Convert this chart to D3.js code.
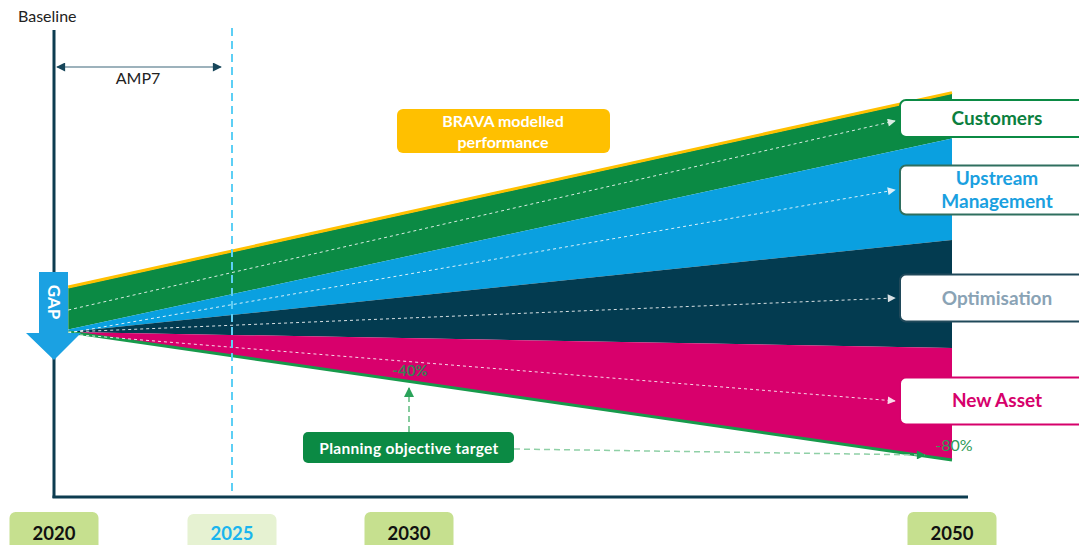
<!DOCTYPE html>
<html>
<head>
<meta charset="utf-8">
<script src="https://cdn.jsdelivr.net/npm/d3@7"></script>
<style>
  html, body { margin: 0; padding: 0; background: #fff; }
  svg { display: block; font-family: Lato, "Open Sans", sans-serif; }
</style>
</head>
<body>
<svg id="chart" width="1079" height="545"></svg>
<script>
// ---------------- data ----------------
const years = [2020, 2025, 2030, 2050];
const yearLabels = ["2020", "2025", "2030", "2050"];
const fanYears = [2020.4, 2050];                 // start / end of the modelled fan
const bravaPerformance = [27.5, 149];            // top of fan (% vs baseline)
const customersFloor = [1.5, 121];
const upstreamFloor = [0, 57.5];
const optimisationFloor = [0, -10];
const planningTarget = [0, -80];
const leverNames = ["Customers", "Upstream Management", "Optimisation", "New Asset"];
const leverArrowStart = [13.75, -0.6, 0, -1.25];
const leverArrowEnd = [131.9, 88.75, 21.25, -43.1];
const leverArrowEndYear = 2047.9;
const targetYears = [2030, 2050];
const targetLabels = ["-40%", "-80%"];
const amp7Years = [2020, 2025];

// ---------------- styles / layout ----------------
const leverFill = ["#0b8a44", "#0aa0e0", "#033b50", "#d8006c"];
const leverText = ["#0b7f3e", "#1aa0e0", "#8aa3b5", "#d6006b"];
const leverStroke = ["#0b8a44", "#2f6f5f", "#20495a", "#d6006b"];
const leverBoxH = [37, 49, 47, 47];

const svg = d3.select("#chart");
const x = d3.scaleLinear().domain(years).range([54, 232, 409, 952]);
const y = d3.scaleLinear().domain([-80, 0]).range([460, 332]);

const defs = svg.append("defs");
function marker(id, color, w, h) {
  defs.append("marker").attr("id", id).attr("viewBox", "0 0 10 10")
    .attr("refX", 9).attr("refY", 5).attr("markerWidth", w).attr("markerHeight", h)
    .attr("markerUnits", "userSpaceOnUse").attr("orient", "auto-start-reverse")
    .append("path").attr("d", "M0,0L10,5L0,10Z").attr("fill", color);
}
marker("mWhite", "#ffffff", 9, 8);
marker("mDark", "#17465a", 11, 9);
marker("mGreen", "#1a9a50", 11, 9);
marker("mGreenUp", "#2aa35a", 10, 10);

// ---------------- fan bands ----------------
const bounds = [bravaPerformance, customersFloor, upstreamFloor, optimisationFloor, planningTarget];
const area = d3.area().x(d => x(d.t)).y0(d => y(d.lo)).y1(d => y(d.hi));
for (let i = 0; i < 4; i++) {
  const pts = fanYears.map((t, k) => ({ t, hi: bounds[i][k], lo: bounds[i + 1][k] }));
  svg.append("path").attr("d", area(pts)).attr("fill", leverFill[i]);
}
const line = d3.line().x(d => x(d.t)).y(d => y(d.v));
// BRAVA modelled performance line (yellow)
svg.append("path")
  .attr("d", line(fanYears.map((t, k) => ({ t, v: bravaPerformance[k] }))))
  .attr("transform", "translate(0,-1)")
  .attr("fill", "none").attr("stroke", "#ffc000").attr("stroke-width", 3);
// planning target line
svg.append("path")
  .attr("d", line(fanYears.map((t, k) => ({ t, v: planningTarget[k] }))))
  .attr("fill", "none").attr("stroke", "#179a4b").attr("stroke-width", 3);

// lever dashed arrows
leverNames.forEach((n, i) => {
  svg.append("line")
    .attr("x1", x(fanYears[0])).attr("y1", y(leverArrowStart[i]))
    .attr("x2", x(leverArrowEndYear)).attr("y2", y(leverArrowEnd[i]))
    .attr("stroke", "#ffffff").attr("stroke-width", 1).attr("stroke-dasharray", "3,3")
    .attr("opacity", 0.85).attr("marker-end", "url(#mWhite)");
});

// ---------------- axes ----------------
svg.append("line").attr("x1", x(2020)).attr("x2", x(2020)).attr("y1", 30).attr("y2", 498)
  .attr("stroke", "#0d3c50").attr("stroke-width", 3);
svg.append("line").attr("x1", x(2020) - 1.5).attr("x2", 968).attr("y1", 497).attr("y2", 497)
  .attr("stroke", "#0d3c50").attr("stroke-width", 3);
svg.append("text").attr("x", 18).attr("y", 22).text("Baseline")
  .attr("font-size", 16).attr("fill", "#222");

// 2025 dashed line
svg.append("line").attr("x1", x(2025)).attr("x2", x(2025)).attr("y1", 28).attr("y2", 493)
  .attr("stroke", "#5ccff5").attr("stroke-width", 2).attr("stroke-dasharray", "8,5");

// AMP7 double arrow
svg.append("line").attr("x1", x(amp7Years[0]) + 3).attr("x2", x(amp7Years[1]) - 11)
  .attr("y1", 67).attr("y2", 67)
  .attr("stroke", "#7c98a6").attr("stroke-width", 1.5)
  .attr("marker-start", "url(#mDark)").attr("marker-end", "url(#mDark)");
svg.append("text").attr("x", (x(amp7Years[0]) + x(amp7Years[1])) / 2 - 5).attr("y", 84)
  .attr("text-anchor", "middle").attr("font-size", 16).attr("fill", "#222").text("AMP7");

// GAP arrow
const gx = x(2020);
svg.append("path")
  .attr("d", `M${gx - 15},272 L${gx + 14},272 L${gx + 14},333 L${gx + 27},333 L${gx},360 L${gx - 28},333 L${gx - 15},333 Z`)
  .attr("fill", "#1ba1e2");
svg.append("text").attr("transform", `translate(${gx - 6},302) rotate(90)`)
  .attr("text-anchor", "middle").attr("font-size", 17).attr("font-weight", 700)
  .attr("fill", "#fff").text("GAP");

// ---------------- year boxes ----------------
years.forEach((yr, i) => {
  const cx = x(yr);
  const light = yr === 2025;
  svg.append("rect").attr("x", cx - 44.5).attr("y", light ? 514 : 512).attr("width", 89).attr("height", 45)
    .attr("rx", 6).attr("fill", light ? "#e6f2d2" : "#c6e08f");
  svg.append("text").attr("x", cx).attr("y", 540).attr("text-anchor", "middle")
    .attr("font-size", 18.5).attr("font-weight", 700)
    .attr("fill", light ? "#1ab5ee" : "#111").text(yearLabels[i]);
});

// ---------------- BRAVA box ----------------
svg.append("rect").attr("x", 397).attr("y", 109).attr("width", 213).attr("height", 44).attr("rx", 6)
  .attr("fill", "#ffc000");
svg.append("text").attr("x", 503).attr("y", 127).attr("text-anchor", "middle")
  .attr("font-size", 16).attr("font-weight", 700).attr("fill", "#fff").text("BRAVA modelled");
svg.append("text").attr("x", 503).attr("y", 148).attr("text-anchor", "middle")
  .attr("font-size", 16).attr("font-weight", 700).attr("fill", "#fff").text("performance");

// ---------------- target annotations ----------------
targetYears.forEach((yr, i) => {
  const tx = x(yr);
  const ty = y(planningTarget[0] + (planningTarget[1] - planningTarget[0]) * (tx - x(fanYears[0])) / (x(fanYears[1]) - x(fanYears[0])));
  svg.append("text").attr("x", tx + (i === 1 ? 2 : 1)).attr("y", ty - (i === 1 ? 9 : 5))
    .attr("text-anchor", "middle").attr("font-size", i === 1 ? 16 : 15)
    .attr("font-weight", i === 1 ? 400 : 700)
    .attr("fill", i === 1 ? "#2e9b57" : "#3c7d55").text(targetLabels[i]);
});
const boxCx = x(2030);
svg.append("line").attr("x1", boxCx).attr("x2", boxCx).attr("y1", 432).attr("y2", 388)
  .attr("stroke", "#5cbb7d").attr("stroke-width", 1.5).attr("stroke-dasharray", "6,4")
  .attr("marker-end", "url(#mGreenUp)");
svg.append("line").attr("x1", 514).attr("x2", 925).attr("y1", 449).attr("y2", 455)
  .attr("stroke", "#8fd0a6").attr("stroke-width", 1.5).attr("stroke-dasharray", "6,4")
  .attr("marker-end", "url(#mGreen)");
svg.append("rect").attr("x", boxCx - 106).attr("y", 432).attr("width", 211).attr("height", 31).attr("rx", 5)
  .attr("fill", "#0b8a44");
svg.append("text").attr("x", boxCx).attr("y", 454).attr("text-anchor", "middle")
  .attr("font-size", 15.5).attr("font-weight", 700).attr("fill", "#fff")
  .attr("letter-spacing", 0.3).text("Planning objective target");

// ---------------- lever label boxes ----------------
leverNames.forEach((n, i) => {
  const cy = y(leverArrowEnd[i]) - (i === 0 ? 2.5 : 0);
  const h = leverBoxH[i];
  svg.append("rect").attr("x", 900).attr("y", cy - h / 2).attr("width", 195).attr("height", h).attr("rx", 6)
    .attr("fill", "#fff").attr("stroke", leverStroke[i]).attr("stroke-width", 2);
  const words = i === 1 ? ["Upstream", "Management"] : [n];
  words.forEach((w, k) => {
    svg.append("text").attr("x", 997)
      .attr("y", cy + 6.5 + (k - (words.length - 1) / 2) * 23)
      .attr("text-anchor", "middle").attr("font-size", 19).attr("font-weight", 700)
      .attr("fill", leverText[i]).text(w);
  });
});
</script>
</body>
</html>
